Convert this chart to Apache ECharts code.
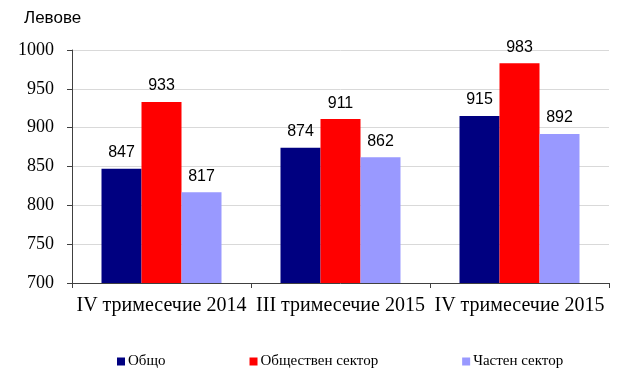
<!DOCTYPE html>
<html>
<head>
<meta charset="utf-8">
<script src="https://cdn.jsdelivr.net/npm/echarts@6/dist/echarts.min.js"></script>
<style>
  html, body { margin: 0; padding: 0; background: #fff; }
  #chart { width: 635px; height: 376px; }
</style>
</head>
<body>
<div id="chart"></div>
<script>
const categories = ['IV тримесечие 2014', 'III тримесечие 2015', 'IV тримесечие 2015'];
const seriesNames = ['Общо', 'Обществен сектор', 'Частен сектор'];
const total = [847, 874, 915];
const publicSector = [933, 911, 983];
const privateSector = [817, 862, 892];
const colors = ['#000080', '#ff0000', '#9999ff'];

const chart = echarts.init(document.getElementById('chart'));

function barSeries(name, data, color) {
  return {
    name: name,
    type: 'bar',
    data: data,
    barWidth: 40,
    barGap: '0%',
    itemStyle: { color: color },
    label: {
      show: true,
      position: 'top',
      distance: 8,
      color: '#000',
      fontFamily: 'Liberation Sans',
      fontSize: 16
    }
  };
}

chart.setOption({
  animation: false,
  title: {
    text: 'Левове',
    left: 19,
    top: 5,
    textStyle: { fontFamily: 'Liberation Sans', fontSize: 17, fontWeight: 'normal', color: '#000' }
  },
  legend: {
    data: seriesNames,
    left: 112,
    top: 349,
    itemWidth: 8,
    itemHeight: 8,
    itemGap: 84,
    icon: 'rect',
    textStyle: { fontFamily: 'Liberation Serif', fontSize: 15, color: '#000', padding: [0, 0, 0, -2] }
  },
  grid: { left: 72, right: 26, top: 50, bottom: 93 },
  xAxis: {
    type: 'category',
    data: categories,
    axisLine: { lineStyle: { color: '#404040', width: 1 } },
    axisTick: { show: true, length: 5, lineStyle: { color: '#404040' } },
    axisLabel: { interval: 0, fontFamily: 'Liberation Serif', fontSize: 20, color: '#000', margin: 13 }
  },
  yAxis: {
    type: 'value',
    min: 700,
    max: 1000,
    interval: 50,
    axisLine: { show: true, lineStyle: { color: '#404040', width: 1 } },
    axisTick: { show: true, length: 5, lineStyle: { color: '#404040' } },
    axisLabel: {
      fontFamily: 'Liberation Serif', fontSize: 18, color: '#000', margin: 18,
      formatter: function (v) { return String(v); }
    },
    splitLine: { lineStyle: { color: '#d9d9d9' } }
  },
  series: [
    barSeries(seriesNames[0], total, colors[0]),
    barSeries(seriesNames[1], publicSector, colors[1]),
    barSeries(seriesNames[2], privateSector, colors[2])
  ]
});
</script>
</body>
</html>
